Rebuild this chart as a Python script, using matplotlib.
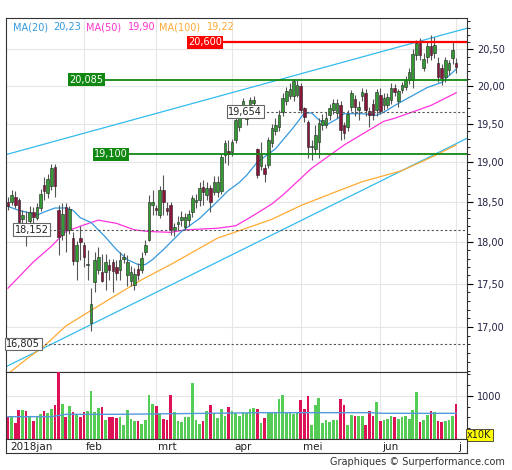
import numpy as np
import matplotlib
matplotlib.use('Agg')
import matplotlib.pyplot as plt
from matplotlib.ticker import FixedLocator, FuncFormatter, NullFormatter

opens = [18.50, 18.50, 18.56, 18.52, 18.28, 18.22, 18.26, 18.37, 18.30, 18.42,
         18.71, 18.61, 18.69, 18.94, 18.39, 18.09, 18.43, 18.15, 18.05, 17.77,
         18.05, 17.97, 17.72, 17.05, 17.52, 17.67, 17.64, 17.64, 17.73, 17.76,
         17.70, 17.67, 17.80, 17.61, 17.54, 17.49, 17.68, 17.67, 17.88, 18.03,
         18.46, 18.42, 18.33, 18.64, 18.42, 18.46, 18.15, 18.22, 18.27, 18.19,
         18.27, 18.37, 18.49, 18.52, 18.68, 18.58, 18.67, 18.62, 18.62, 18.63,
         19.09, 19.14, 19.13, 19.28, 19.46, 19.68, 19.56, 19.74, 19.77, 19.17,
         18.95, 18.93, 18.96, 19.24, 19.40, 19.45, 19.65, 19.80, 19.87, 19.87,
         19.88, 20.00, 19.70, 19.52, 19.19, 19.17, 19.26, 19.48, 19.48, 19.61,
         19.68, 19.64, 19.74, 19.48, 19.45, 19.72, 19.83, 19.68, 19.86, 19.91,
         19.66, 19.76, 19.68, 19.88, 19.74, 19.75, 19.81, 19.98, 19.80, 19.95,
         19.99, 20.08, 20.08, 20.42, 20.59, 20.25, 20.39, 20.55, 20.45, 20.32,
         20.24, 20.12, 20.22, 20.38, 20.32]
highs = [18.56, 18.64, 18.63, 18.55, 18.40, 18.38, 18.45, 18.43, 18.48, 18.66,
         18.81, 18.85, 18.97, 18.98, 18.46, 18.48, 18.48, 18.45, 18.12, 18.01,
         18.20, 18.00, 17.91, 17.45, 17.88, 17.94, 17.86, 17.86, 17.80, 17.80,
         17.79, 17.88, 17.87, 17.85, 17.71, 17.69, 17.75, 17.88, 18.03, 18.58,
         18.64, 18.46, 18.70, 18.83, 18.50, 18.50, 18.23, 18.32, 18.38, 18.36,
         18.40, 18.58, 18.60, 18.75, 18.77, 18.74, 18.71, 18.82, 18.82, 19.10,
         19.28, 19.28, 19.30, 19.62, 19.68, 19.84, 19.63, 19.85, 19.86, 19.18,
         19.26, 18.98, 19.32, 19.50, 19.57, 19.68, 19.90, 19.99, 20.04, 20.10,
         20.08, 20.04, 19.72, 19.55, 19.28, 19.48, 19.58, 19.62, 19.65, 19.76,
         19.82, 19.83, 19.80, 19.52, 19.68, 19.95, 19.88, 19.80, 19.97, 19.96,
         19.72, 19.82, 19.96, 19.98, 19.90, 19.90, 20.04, 20.03, 19.96, 20.06,
         20.14, 20.24, 20.50, 20.63, 20.66, 20.45, 20.62, 20.70, 20.68, 20.40,
         20.30, 20.40, 20.36, 20.60, 20.38]
lows = [18.40, 18.46, 18.42, 18.16, 18.22, 17.95, 18.22, 18.20, 18.27, 18.38,
        18.52, 18.55, 18.65, 18.56, 17.85, 18.03, 17.88, 18.10, 17.72, 17.55,
        17.79, 17.70, 17.55, 16.95, 17.40, 17.62, 17.52, 17.43, 17.55, 17.41,
        17.55, 17.55, 17.75, 17.47, 17.47, 17.43, 17.55, 17.63, 17.84, 18.02,
        18.33, 18.33, 18.30, 18.33, 18.33, 18.09, 18.07, 18.15, 18.20, 18.15,
        18.20, 18.31, 18.42, 18.45, 18.46, 18.52, 18.37, 18.58, 18.56, 18.60,
        18.99, 18.96, 19.08, 19.25, 19.40, 19.58, 19.48, 19.68, 19.70, 18.80,
        18.90, 18.75, 18.92, 19.20, 19.35, 19.40, 19.60, 19.75, 19.82, 19.80,
        19.85, 19.64, 19.52, 19.05, 19.02, 19.10, 19.05, 19.42, 19.44, 19.55,
        19.62, 19.58, 19.28, 19.30, 19.40, 19.66, 19.60, 19.55, 19.80, 19.60,
        19.45, 19.55, 19.60, 19.62, 19.68, 19.70, 19.76, 19.86, 19.72, 19.90,
        19.95, 20.03, 19.98, 20.35, 20.36, 20.20, 20.32, 20.35, 20.38, 20.06,
        20.02, 20.05, 20.15, 20.30, 20.18]
closes = [18.45, 18.58, 18.46, 18.25, 18.33, 18.18, 18.37, 18.31, 18.43, 18.60,
          18.63, 18.79, 18.93, 18.69, 18.06, 18.35, 18.15, 18.41, 17.77, 17.97,
          18.00, 17.82, 17.74, 17.26, 17.79, 17.82, 17.54, 17.76, 17.67, 17.65,
          17.63, 17.79, 17.82, 17.76, 17.64, 17.62, 17.60, 17.81, 17.97, 18.49,
          18.50, 18.39, 18.64, 18.50, 18.38, 18.15, 18.19, 18.25, 18.31, 18.31,
          18.35, 18.54, 18.52, 18.67, 18.62, 18.67, 18.49, 18.74, 18.75, 19.06,
          19.25, 19.11, 19.26, 19.55, 19.58, 19.80, 19.58, 19.81, 19.81, 18.83,
          19.09, 18.85, 19.28, 19.44, 19.48, 19.61, 19.84, 19.94, 19.96, 20.07,
          20.01, 19.68, 19.59, 19.20, 19.20, 19.35, 19.51, 19.55, 19.58, 19.71,
          19.77, 19.77, 19.41, 19.38, 19.63, 19.91, 19.72, 19.72, 19.92, 19.68,
          19.61, 19.61, 19.92, 19.66, 19.84, 19.85, 19.98, 19.92, 19.93, 20.01,
          20.08, 20.19, 20.44, 20.59, 20.42, 20.37, 20.55, 20.42, 20.56, 20.12,
          20.11, 20.35, 20.32, 20.49, 20.26]
# volume in x10K
volumes = [504, 504, 380, 674, 674, 651, 543, 419, 543, 574,
           659, 597, 698, 791, 1566, 822, 504, 775, 636, 574,
           504, 620, 659, 1116, 636, 721, 752, 442, 504, 504,
           481, 520, 326, 674, 465, 419, 419, 349, 442, 1031,
           822, 760, 605, 465, 442, 1031, 636, 419, 403, 504,
           504, 1295, 450, 349, 419, 659, 791, 612, 481, 690,
           543, 736, 659, 612, 543, 636, 612, 690, 713, 700,
           380, 481, 636, 612, 636, 922, 1031, 636, 597, 581,
           636, 907, 690, 1000, 326, 783, 961, 380, 442, 403,
           442, 442, 922, 791, 318, 566, 527, 527, 527, 326,
           651, 543, 853, 419, 442, 458, 543, 520, 458, 520,
           535, 458, 674, 1101, 403, 442, 566, 651, 636, 427,
           388, 419, 442, 527, 814]
vol_ma_idx = [0, 12, 16, 30, 55, 70, 85, 100, 104, 124]
vol_ma = [519, 519, 574, 574, 597, 612, 612, 612, 597, 597]

ma20_idx = [0, 3, 6, 8, 10, 13, 16, 18, 20, 23, 27, 30, 33, 36, 38, 40, 43, 48, 53, 57,
            61, 64, 66, 69, 74, 79, 82, 84, 86, 88, 91, 93, 98, 102, 104, 107, 113, 116, 120, 124]
ma20 = [18.44, 18.39, 18.36, 18.33, 18.37, 18.42, 18.42, 18.39, 18.30, 18.24,
        18.06, 17.91, 17.79, 17.73, 17.73, 17.79, 17.91, 18.13, 18.29, 18.46,
        18.64, 18.74, 18.83, 19.00, 19.17, 19.45, 19.64, 19.64, 19.55, 19.48,
        19.56, 19.63, 19.63, 19.61, 19.65, 19.74, 19.90, 19.98, 20.05, 20.23]
ma50_idx = [0, 7, 12, 16, 21, 25, 30, 35, 39, 45, 49, 58, 63, 68, 73, 76, 84, 93, 104, 107, 117, 124]
ma50 = [17.45, 17.76, 17.95, 18.13, 18.21, 18.27, 18.23, 18.15, 18.13, 18.12, 18.15,
        18.17, 18.20, 18.33, 18.47, 18.58, 18.92, 19.22, 19.53, 19.57, 19.74, 19.91]
ma100_idx = [0, 5, 10, 16, 23, 30, 37, 45, 58, 64, 73, 81, 90, 98, 109, 118, 124]
ma100 = [16.47, 16.63, 16.78, 17.01, 17.19, 17.37, 17.55, 17.73, 18.05, 18.14,
         18.28, 18.45, 18.61, 18.75, 18.89, 19.08, 19.22]

# trendlijnen (twee punten)
trend_x = [-1, 128]
trend_upper = [19.09, 20.81]
trend_lower = [16.54, 19.33]

# niveaus en waar het label staat
lvl_red = 20.600
lvl_red_x = 59.2
lvl_green = [20.085, 19.100]
lvl_green_x = [26.3, 33.2]
lvl_dash = [19.654, 18.152, 16.805]
lvl_dash_x = [70.3, 11.3, 8.9]

month_pos = [0, 21, 41, 62, 81, 103, 124]
month_lbl = ['2018jan', 'feb', 'mrt', 'apr', 'mei', 'jun', 'j']

W, H = 512, 470


def box(x0, y0, x1, y1):  # pixels -> figuur fracties
    return [x0 / W, 1 - y1 / H, (x1 - x0) / W, (y1 - y0) / H]


def komma(v, pos=None):
    return ('%.2f' % v).replace('.', ',')


def niveau_tekst(v):
    return ('%.3f' % v).replace('.', ',')


fig = plt.figure(figsize=(W / 100, H / 100), dpi=100)
ax = fig.add_axes(box(6, 18, 467, 372))
axv = fig.add_axes(box(6, 372, 467, 439), sharex=ax)
axd = fig.add_axes(box(6, 439, 467, 453), sharex=ax)

o = np.array(opens)
h = np.array(highs)
l = np.array(lows)
c = np.array(closes)
x = np.arange(len(c))
up = c >= o

ax.set_yscale('log')
ax.set_ylim(16.49, 20.94)
ax.set_xlim(-0.55, 127.0)

ax.plot(trend_x, trend_upper, color='#33bbee', lw=0.9, zorder=2)
ax.plot(trend_x, trend_lower, color='#33bbee', lw=0.9, zorder=2)
ax.plot(ma100_idx, ma100, color='#ffaa33', lw=0.9, zorder=2)
ax.plot(ma50_idx, ma50, color='#ff33dd', lw=0.9, zorder=2)
ax.plot(ma20_idx, ma20, color='#3399dd', lw=0.9, zorder=2)

# kaarsen
ax.vlines(x, l, h, color='#555555', lw=0.8, zorder=3)
body_lo = np.minimum(o, c)
body_h = np.maximum(np.abs(c - o), 0.015)
ax.bar(x, body_h, bottom=body_lo, width=0.72,
       color=np.where(up, '#339933', '#8b1538'), edgecolor='#222222', lw=0.4, zorder=4)

xr = 127.0
ax.hlines(lvl_red, lvl_red_x, xr, color='#ff0000', lw=1.6, zorder=5)
ax.text(lvl_red_x, lvl_red, niveau_tekst(lvl_red), ha='right', va='center',
        fontsize=7, color='white', zorder=6,
        bbox=dict(boxstyle='square,pad=0.15', fc='#ff0000', ec='none'))
for v, xs in zip(lvl_green, lvl_green_x):
    ax.hlines(v, xs, xr, color='#118811', lw=1.3, zorder=5)
    ax.text(xs, v, niveau_tekst(v), ha='right', va='center', fontsize=7,
            color='white', zorder=6,
            bbox=dict(boxstyle='square,pad=0.15', fc='#118811', ec='none'))
for v, xs in zip(lvl_dash, lvl_dash_x):
    ax.hlines(v, xs, xr, color='#555555', lw=0.8, linestyles=(0, (2, 2)), zorder=5)
    ax.text(xs, v, niveau_tekst(v), ha='right', va='center', fontsize=7,
            color='#222222', zorder=6,
            bbox=dict(boxstyle='square,pad=0.15', fc='white', ec='#666666', lw=0.8))

# legenda
leg = [(0.015, 'MA(20)', '#3399dd'), (0.102, '20,23', '#3399dd'),
       (0.174, 'MA(50)', '#ff33cc'), (0.265, '19,90', '#ff33cc'),
       (0.332, 'MA(100)', '#ffaa33'), (0.436, '19,22', '#ffaa33')]
for xp, t, col in leg:
    ax.text(xp, 0.988, t, transform=ax.transAxes, ha='left', va='top', fontsize=7, color=col)

ax.yaxis.tick_right()
ax.yaxis.set_major_locator(FixedLocator([17.0, 17.5, 18.0, 18.5, 19.0, 19.5, 20.0, 20.5]))
ax.yaxis.set_minor_locator(FixedLocator(np.arange(16.5, 21.0, 0.1)))
ax.yaxis.set_major_formatter(FuncFormatter(komma))
ax.yaxis.set_minor_formatter(NullFormatter())
ax.tick_params(axis='y', which='major', length=4, width=0.8, labelsize=7, labelcolor='#222244')
ax.tick_params(axis='y', which='minor', length=2.5, width=0.6)
ax.set_xticks(month_pos[1:])
ax.tick_params(axis='x', which='both', bottom=False, labelbottom=False)
ax.grid(True, which='major', color='#e6e6e6', lw=0.8, zorder=0)

# volume
axv.bar(x, volumes, width=0.74, color=np.where(up, '#55cc55', '#dd1155'), zorder=3)
axv.plot(vol_ma_idx, vol_ma, color='#5599dd', lw=1.0, zorder=4)
axv.set_ylim(0, 1558)
axv.yaxis.tick_right()
axv.yaxis.set_major_locator(FixedLocator([1000]))
axv.yaxis.set_minor_locator(FixedLocator([250, 500, 750, 1250, 1500]))
axv.tick_params(axis='y', which='major', length=4, width=0.8, labelsize=7, labelcolor='#222244')
axv.tick_params(axis='y', which='minor', length=2.5, width=0.6)
axv.tick_params(axis='x', which='both', bottom=False, labelbottom=False)
axv.grid(True, which='major', color='#e6e6e6', lw=0.8, zorder=0)
axv.text(1.0, 0.06, 'x10K', transform=axv.transAxes, ha='left', va='center', fontsize=7,
         color='#222222', bbox=dict(boxstyle='square,pad=0.12', fc='#ffff00', ec='#333333', lw=0.6))

# maanden
axd.set_ylim(0, 1)
axd.tick_params(axis='both', which='both', left=False, right=False, bottom=False,
                labelleft=False, labelbottom=False)
for p, t in zip(month_pos, month_lbl):
    axd.text(p + 0.5, 0.45, t, ha='left', va='center', fontsize=7.5, color='#222222')

for a in (ax, axv, axd):
    for s in a.spines.values():
        s.set_color('#333333')
        s.set_linewidth(0.8)

fig.text(505 / W, 1 - 462 / H, 'Graphiques \u00a9 Surperformance.com', ha='right', va='center',
         fontsize=7, color='#333333')

fig.savefig('out.png', dpi=100, facecolor='white')
